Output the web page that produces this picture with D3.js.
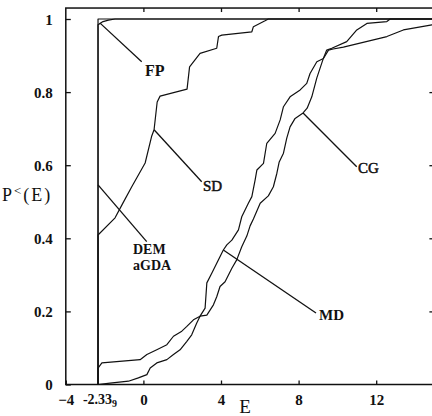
<!DOCTYPE html>
<html>
<head>
<meta charset="utf-8">
<script src="https://cdn.jsdelivr.net/npm/d3@7"></script>
<style>
  html, body { margin: 0; padding: 0; background: #fff; }
  svg { display: block; }
  text { font-family: "Liberation Serif", "DejaVu Serif", serif; fill: #111; }
</style>
</head>
<body>
<svg id="chart" width="432" height="416"></svg>
<script>
// Cumulative distributions P<(E) of the final energy E for each method.
const E_MIN = -2.339;

const demE = [E_MIN, E_MIN, 15];
const demP = [0, 1, 1];

const fpE = [E_MIN, E_MIN, -2.29, -2.08, -1.80, -1.46, 15];
const fpP = [0, 0.984, 0.986, 0.993, 0.997, 1.0, 1.0];

const sdE = [E_MIN, E_MIN, -1.46, -1.05, -0.60, 0.09, 0.43, 0.55, 0.71, 0.86, 2.25, 2.38, 2.92, 3.78, 3.87, 4.04, 5.59, 5.67, 6.27, 6.44, 15];
const sdP = [0, 0.409, 0.456, 0.497, 0.541, 0.606, 0.680, 0.697, 0.773, 0.789, 0.808, 0.869, 0.906, 0.920, 0.952, 0.956, 0.965, 0.979, 0.995, 1.0, 1.0];

const mdE = [E_MIN, E_MIN, -2.14, -0.17, 0.18, 0.69, 1.21, 1.55, 1.98, 2.24, 2.58, 2.92, 3.18, 3.27, 3.53, 3.78, 4.12, 4.30, 4.56, 4.90, 5.07, 5.41, 5.59, 5.76, 5.85, 6.19, 6.36, 6.79, 7.05, 7.22, 7.56, 8.08, 8.42, 8.59, 8.94, 9.28, 9.54, 9.78, 10.31, 12.55, 13.40, 14.87, 15.0];
const mdP = [0, 0.045, 0.059, 0.068, 0.082, 0.095, 0.109, 0.132, 0.146, 0.159, 0.177, 0.187, 0.209, 0.278, 0.305, 0.332, 0.368, 0.382, 0.395, 0.423, 0.459, 0.496, 0.514, 0.560, 0.587, 0.605, 0.660, 0.687, 0.724, 0.760, 0.787, 0.806, 0.824, 0.851, 0.883, 0.892, 0.915, 0.918, 0.923, 0.952, 0.970, 0.984, 0.985];

const cgE = [E_MIN, -1.72, -0.77, -0.26, 0.18, 0.35, 0.69, 1.21, 1.55, 1.89, 2.24, 2.49, 2.75, 2.92, 3.27, 3.61, 3.78, 3.95, 4.21, 4.56, 4.81, 5.07, 5.33, 5.50, 5.67, 6.02, 6.44, 6.70, 6.88, 7.00, 7.22, 7.39, 7.56, 7.82, 8.23, 8.44, 8.68, 8.94, 9.28, 9.45, 9.71, 10.48, 11.00, 11.52, 12.55, 12.72, 15];
const cgP = [0, 0.004, 0.009, 0.018, 0.027, 0.045, 0.059, 0.068, 0.082, 0.095, 0.118, 0.136, 0.168, 0.187, 0.190, 0.218, 0.240, 0.268, 0.281, 0.318, 0.341, 0.377, 0.406, 0.434, 0.453, 0.496, 0.516, 0.541, 0.578, 0.609, 0.633, 0.674, 0.705, 0.728, 0.743, 0.756, 0.787, 0.839, 0.893, 0.915, 0.920, 0.938, 0.970, 0.988, 0.993, 1.0, 1.0];

const xTicks = [-4, 0, 4, 8, 12];
const yTicks = [0, 0.2, 0.4, 0.6, 0.8, 1];
const yTickLabels = ["0", "0.2", "0.4", "0.6", "0.8", "1"];

const svg = d3.select("#chart");
const x = d3.scaleLinear().domain([-4, 15]).range([65.8, 434.4]);
const y = d3.scaleLinear().domain([0, 1]).range([384.5, 19]);
const yTop = y(1.03);

const ink = "#111";
const line = d3.line().x(d => x(d[0])).y(d => y(d[1]));
const zip = (a, b) => a.map((v, i) => [v, b[i]]);

svg.append("clipPath").attr("id", "plot")
  .append("rect").attr("x", x(-4)).attr("y", yTop)
  .attr("width", x(15) - x(-4)).attr("height", y(0) - yTop);

// frame
svg.append("rect")
  .attr("x", x(-4)).attr("y", yTop)
  .attr("width", x(15) - x(-4)).attr("height", y(0) - yTop)
  .attr("fill", "none").attr("stroke", ink).attr("stroke-width", 1.5);

// axes with inward ticks
const axB = d3.axisBottom(x).tickValues(xTicks).tickSize(-4).tickPadding(10).tickFormat(d => d === -4 ? "\u22124" : d);
const gB = svg.append("g").attr("transform", `translate(0,${y(0)})`).call(axB);
const axT = d3.axisTop(x).tickValues(xTicks.slice(1)).tickSize(-4).tickFormat("");
const gT = svg.append("g").attr("transform", `translate(0,${yTop})`).call(axT);
const axL = d3.axisLeft(y).tickValues(yTicks).tickSize(-5).tickPadding(13).tickFormat((d, i) => yTickLabels[i]);
const gL = svg.append("g").attr("transform", `translate(${x(-4)},0)`).call(axL);
const axR = d3.axisRight(y).tickValues(yTicks.slice(1, 5)).tickSize(-5).tickFormat("");
const gR = svg.append("g").attr("transform", `translate(${x(15)},0)`).call(axR);

[gB, gT, gL, gR].forEach(g => {
  g.select(".domain").remove();
  g.selectAll(".tick line").attr("stroke", ink).attr("stroke-width", 1.3);
  g.selectAll(".tick text")
    .attr("font-family", "'Liberation Serif', serif")
    .attr("font-size", 15).attr("font-weight", "bold").attr("fill", ink);
});
gL.selectAll(".tick text").attr("dy", "0.36em");

// minimum-energy tick label -2.33 with subscript 9
const minLab = svg.append("text")
  .attr("x", x(E_MIN) + 2).attr("y", 404)
  .attr("text-anchor", "middle")
  .attr("font-size", 14).attr("font-weight", "bold");
minLab.append("tspan").text("-2.33");
minLab.append("tspan").attr("font-size", 10).attr("dy", 3).text("9");

// axis titles
svg.append("text").attr("x", x(4) + 24).attr("y", 413)
  .attr("text-anchor", "middle").attr("font-size", 19).text("E");
const yl = svg.append("text").attr("x", 2).attr("y", 201)
  .attr("font-size", 18).attr("letter-spacing", 2);
yl.append("tspan").text("P");
yl.append("tspan").attr("font-size", 13).attr("dy", -6).text("<");
yl.append("tspan").attr("dy", 6).text("(E)");

// curves
const curves = svg.append("g").attr("clip-path", "url(#plot)")
  .attr("fill", "none").attr("stroke", ink).attr("stroke-width", 1.2)
  .attr("stroke-linejoin", "round");
[[demE, demP], [fpE, fpP], [sdE, sdP], [mdE, mdP], [cgE, cgP]].forEach(([e, p]) => {
  curves.append("path").attr("d", line(zip(e, p)));
});

// labels with leader lines: anchor on curve (data units) -> label point (pixels)
const notes = [
  { lines: ["FP"], at: [-2.22, 0.988], to: [141.7, 61.7], tx: 145, ty: 76, font: "serif", size: 16 },
  { lines: ["SD"], at: [0.55, 0.697], to: [201.7, 181.7], tx: 203, ty: 190.5, font: "sans", size: 15 },
  { lines: ["DEM", "aGDA"], at: [E_MIN, 0.546], to: [146.7, 241.7], tx: 133, ty: 254, font: "serif", size: 14, gap: 15.6 },
  { lines: ["MD"], at: [4.12, 0.368], to: [316, 313], tx: 319, ty: 320, font: "serif", size: 15 },
  { lines: ["CG"], at: [8.23, 0.743], to: [356.7, 166.7], tx: 358, ty: 173, font: "sans", size: 15 }
];
notes.forEach(n => {
  svg.append("line")
    .attr("x1", x(n.at[0])).attr("y1", y(n.at[1]))
    .attr("x2", n.to[0]).attr("y2", n.to[1])
    .attr("stroke", ink).attr("stroke-width", 1.3);
  n.lines.forEach((s, i) => {
    const t = svg.append("text")
      .attr("x", n.tx).attr("y", n.ty + i * (n.gap || 0))
      .attr("font-family", n.font === "sans" ? "'DejaVu Sans', sans-serif" : "'Liberation Serif', serif")
      .attr("font-size", n.size)
      .attr("font-weight", n.font === "sans" ? "normal" : "bold")
      .text(s);
    if (n.font === "sans") t.attr("stroke", ink).attr("stroke-width", 0.5);
  });
});
</script>
</body>
</html>
